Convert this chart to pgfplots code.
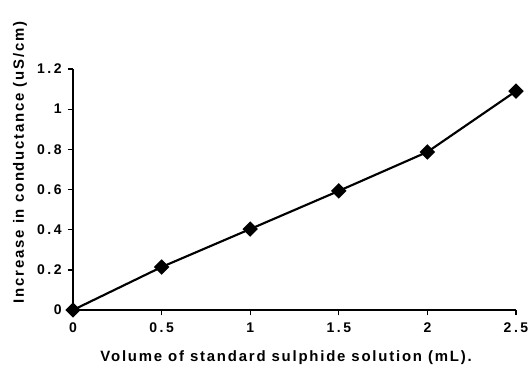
\documentclass[border=0pt]{standalone}
\usepackage{fontspec}
\setmainfont{Liberation Sans}
\newfontfamily\lbl[LetterSpace=12]{Liberation Sans}
\newfontfamily\tck[LetterSpace=18]{Liberation Sans}
\usepackage{pgfplots}
\pgfplotsset{compat=1.18}
\begin{document}
\begin{tikzpicture}
\begin{axis}[
  scale only axis,
  width=332.25pt, height=180.75pt,
  at={(0,0)}, anchor=south west,
  xmin=0, xmax=2.5, ymin=0, ymax=1.2,
  axis x line=bottom, axis y line=left,
  axis line style={-, line width=1.4pt},
  xtick={0,0.5,1,1.5,2,2.5},
  ytick={0,0.2,0.4,0.6,0.8,1,1.2},
  xticklabels={0,0.5,1,1.5,2,2.5},
  yticklabels={0,0.2,0.4,0.6,0.8,1,1.2},
  tick align=outside,
  major tick length=4pt,
  tick style={line width=1pt, black},
  tick label style={font=\tck\bfseries\fontsize{10.5}{12}\selectfont},
  xticklabel style={yshift=-2pt},
  yticklabel style={xshift=-1pt},
  xlabel={Volume of standard sulphide solution (mL).},
  ylabel={Increase in conductance (uS/cm)},
  xlabel style={font=\lbl\bfseries\fontsize{11.2}{13}\selectfont, at={(axis description cs:0.481,-0.199)}, anchor=center},
  ylabel style={font=\lbl\bfseries\fontsize{11.2}{13}\selectfont, at={(axis description cs:-0.1196,0.613)}, anchor=center, rotate=0},
  clip=false,
]
\addplot[black, line width=1.6pt, mark=square*, mark size=3.3pt, mark options={rotate=45, solid, fill=black}]
  coordinates {(0,0) (0.5,0.214) (1,0.403) (1.5,0.593) (2,0.787) (2.5,1.09)};
\end{axis}
\pgfresetboundingbox
\path[use as bounding box] (-54.75pt,-44.25pt) rectangle (342pt,232.5pt);
\end{tikzpicture}
\end{document}
